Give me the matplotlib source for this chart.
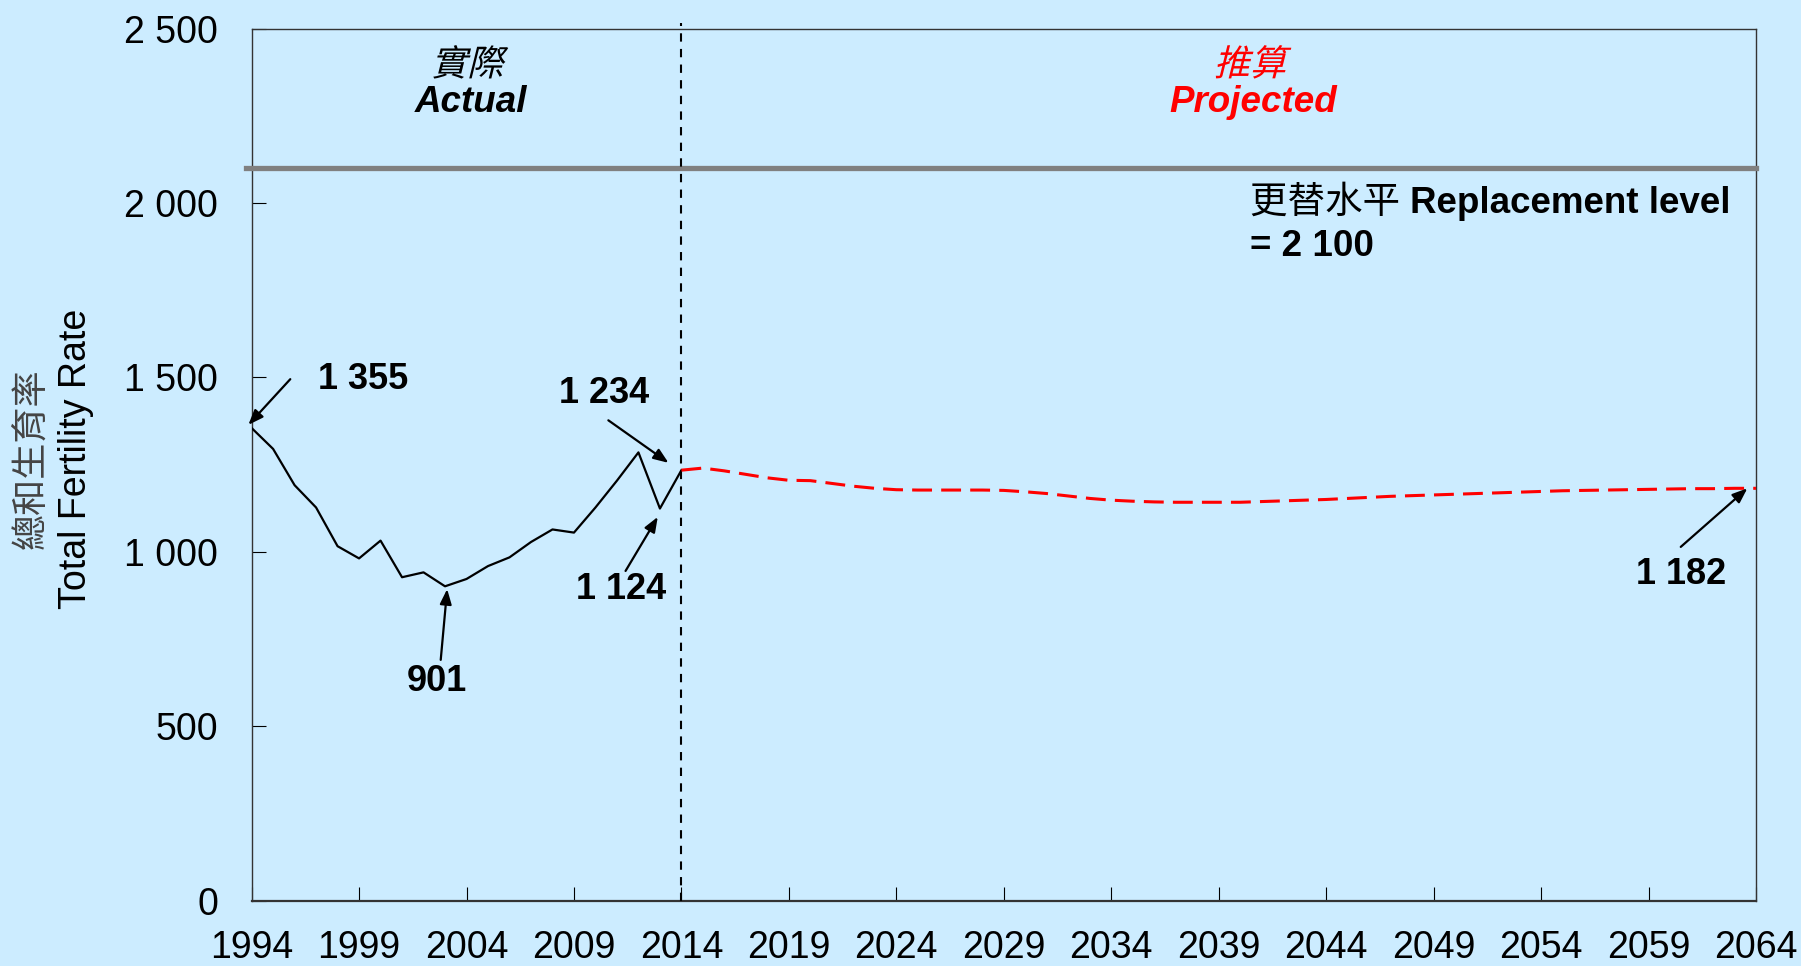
import matplotlib
matplotlib.use("Agg")
import matplotlib.pyplot as plt
from matplotlib.textpath import TextPath
from matplotlib.patches import PathPatch
from matplotlib.font_manager import FontProperties
from matplotlib.transforms import Affine2D

plt.rcParams['font.family'] = ['Liberation Sans', 'Noto Sans CJK TC', 'DejaVu Sans']

# actual total fertility rate (per 1 000 women)
actual_years = list(range(1994, 2015))
actual_tfr = [1355, 1295, 1191, 1127, 1016, 981, 1032, 927, 941, 901,
              922, 959, 984, 1028, 1064, 1055, 1127, 1204, 1285, 1124, 1234]

# projected
proj_years = list(range(2014, 2065))
proj_tfr = [1234, 1240, 1232, 1222, 1212, 1205, 1204, 1196, 1188, 1182,
            1178, 1177, 1177, 1177, 1177, 1176, 1172, 1167, 1160, 1153,
            1148, 1145, 1143, 1142, 1142, 1142, 1142, 1144, 1146, 1148,
            1150, 1153, 1156, 1159, 1161, 1163, 1165, 1167, 1169, 1171,
            1173, 1175, 1176, 1177, 1178, 1179, 1180, 1181, 1181, 1182, 1182]

replacement = 2100
xticks = list(range(1994, 2065, 5))
yticks = [0, 500, 1000, 1500, 2000, 2500]
ytick_labels = ["0", "500", "1 000", "1 500", "2 000", "2 500"]

bg = "#CCECFF"

fig = plt.figure(figsize=(18.01, 9.66), dpi=100, facecolor=bg)
ax = fig.add_axes([0.1397, 0.0678, 0.975 - 0.1397, 0.9703 - 0.0678])
ax.set_facecolor(bg)

ax.plot(actual_years, actual_tfr, color="black", lw=1.6, zorder=4)
ax.plot(proj_years, proj_tfr, color="red", lw=2.2, dashes=(6.5, 3), zorder=4)

ax.axhline(replacement, xmin=-0.004, xmax=1.0, color="#808080", lw=3.8,
           clip_on=False, zorder=3)
ax.axvline(2014, ymin=0, ymax=1.006, color="black", lw=1.5, dashes=(4, 3.5),
           clip_on=False, zorder=3)

ax.set_xlim(1994, 2064)
ax.set_ylim(0, 2500)
ax.set_xticks(xticks)
ax.set_xticklabels([str(x) for x in xticks])
ax.set_yticks(yticks)
ax.set_yticklabels(ytick_labels)
ax.tick_params(axis="both", direction="in", length=10, width=0.8,
               labelsize=27, colors="black")
ax.tick_params(axis="x", pad=21)
ax.tick_params(axis="y", pad=24)
for s in ax.spines.values():
    s.set_color("#333333")
    s.set_linewidth(1.0)
ax.spines["bottom"].set_linewidth(1.6)

# y label: two lines
fig.text(0.0178, 0.525, "總和生育率", rotation=90, fontsize=26, color="#444444",
         ha="center", va="center")
fig.text(0.0421, 0.525, "Total Fertility Rate", rotation=90, fontsize=27,
         color="black", ha="center", va="center")


def slanted_cjk(s, x, y, size, color):
    # CJK fonts have no italic, so shear the glyph outlines
    fp = FontProperties(family="Noto Sans CJK TC")
    tp = TextPath((0, 0), s, size=size, prop=fp)
    bb = tp.get_extents()
    px, py = ax.transData.transform((x, y))
    k = fig.dpi / 72.0
    tr = (Affine2D().translate(-(bb.x0 + bb.x1) / 2, -(bb.y0 + bb.y1) / 2)
          .skew_deg(14, 0).scale(k).translate(px, py))
    ax.add_patch(PathPatch(tp, transform=tr, color=color, lw=0, clip_on=False))


# region labels
slanted_cjk("實際", 2004.2, 2405, 26, "black")
ax.text(2004.2, 2289, "Actual", fontsize=26.5, style="italic", weight="bold",
        ha="center", va="center")
slanted_cjk("推算", 2040.6, 2405, 26, "red")
ax.text(2040.6, 2289, "Projected", fontsize=26.5, style="italic", weight="bold",
        color="red", ha="center", va="center")

# replacement level note
t1 = ax.text(2040.45, 2000, "更替水平 ", fontsize=27, ha="left", va="center")
ax.annotate("Replacement level", xy=(1, 0.5), xycoords=t1, fontsize=26.5,
            weight="bold", ha="left", va="center")
ax.text(2040.45, 1874, "= 2 100", fontsize=26.5, weight="bold", ha="left", va="center")

# point annotations
arrow = dict(arrowstyle="-|>,head_length=0.9,head_width=0.35", color="black",
             lw=1.6, shrinkA=0, shrinkB=0)
notes = [
    ("1 355", (1999.2, 1495), (1995.8, 1495), (1993.85, 1364)),
    ("1 234", (2010.4, 1453), (2010.6, 1377), (2013.4, 1255)),
    ("1 124", (2011.2, 893), (2011.4, 945), (2012.9, 1100)),
    ("901", (2002.6, 629), (2002.8, 690), (2003.1, 893)),
    ("1 182", (2060.5, 935), (2060.5, 1014), (2063.6, 1182)),
]
for label, tpos, tail, head in notes:
    ax.text(tpos[0], tpos[1], label, fontsize=26, weight="bold",
            ha="center", va="center")
    ax.annotate("", xy=head, xytext=tail, arrowprops=arrow,
                annotation_clip=False, zorder=5)

fig.savefig("out.png", dpi=100, facecolor=bg)
